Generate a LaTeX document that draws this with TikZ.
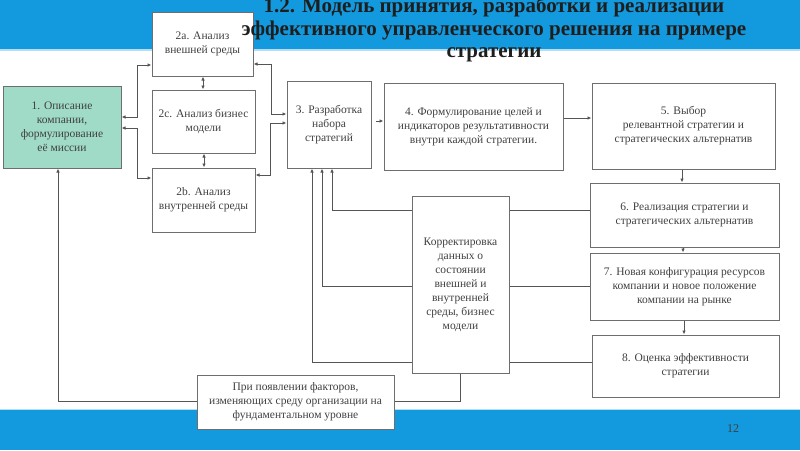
\documentclass[tikz,border=0pt]{standalone}
\usepackage{fontspec}
\setmainfont{Liberation Serif}
\usepackage{tikz}
\usetikzlibrary{arrows.meta,positioning,calc,backgrounds}
\definecolor{bandblue}{HTML}{1399DE}
\definecolor{bandlight}{HTML}{B5DDF3}
\definecolor{mintfill}{HTML}{9FDBC7}
\definecolor{boxline}{HTML}{6E6E6E}
\definecolor{linkgray}{HTML}{555555}
\definecolor{txtgray}{HTML}{404040}
\definecolor{titleblack}{HTML}{1E1E1E}

\begin{document}
\begin{tikzpicture}[
  x=1pt,y=-1pt,
  box/.style={draw=boxline,line width=1pt,fill=white,inner sep=2pt,
              font=\fontsize{11.5}{14}\selectfont,text=txtgray,align=center},
  arr/.style={-{Latex[length=4pt,width=3.5pt]},linkgray,line width=0.8pt},
  dbl/.style={{Latex[length=4pt,width=3.5pt]}-{Latex[length=4pt,width=3.5pt]},
              linkgray,line width=0.8pt}
]
  \useasboundingbox (0,0) rectangle (800,450);
  \begin{scope}[on background layer]
    \fill[bandblue] (0,0) rectangle (800,49);
    \draw[bandlight,line width=1.5pt] (0,50) -- (800,50);
    \fill[bandblue] (0,409) rectangle (800,450);
    \draw[bandlight,line width=1pt] (0,409) -- (800,409);
  \end{scope}

  \node[box,fill=mintfill,minimum width=118pt,minimum height=82pt](desc) at (62,127)
       {1. Описание\\компании,\\формулирование\\её миссии};
  \node[box,minimum width=101pt,minimum height=64pt](ext) at (202.5,44)
       {2a. Анализ\\внешней среды};
  \node[box,minimum width=103pt,minimum height=63pt](bmod) at (203.5,121.5)
       {2c. Анализ бизнес\\модели};
  \node[box,minimum width=103pt,minimum height=64pt](int) at (203.5,200)
       {2b. Анализ\\внутренней среды};
  \node[box,minimum width=84pt,minimum height=87pt](dev) at (329,124.5)
       {3. Разработка\\набора\\стратегий};
  \node[box,minimum width=179pt,minimum height=87pt](goals) at (473.5,126.5)
       {4. Формулирование целей и\\индикаторов результативности\\внутри каждой стратегии.};
  \node[box,minimum width=183pt,minimum height=86pt](choice) at (683.5,126)
       {5. Выбор\\релевантной стратегии и\\стратегических альтернатив};
  \node[box,minimum width=189pt,minimum height=64pt](impl) at (684.5,215)
       {6. Реализация стратегии и\\стратегических альтернатив};
  \node[box,minimum width=189pt,minimum height=67pt](rescfg) at (684.5,286.5)
       {7. Новая конфигурация ресурсов\\компании и новое положение\\компании на рынке};
  \node[box,minimum width=187pt,minimum height=62pt](eval) at (685.5,366)
       {8. Оценка эффективности\\стратегии};
  \node[box,minimum width=97pt,minimum height=177pt](corr) at (460.5,284.5)
       {Корректировка\\данных о\\состоянии\\внешней и\\внутренней\\среды, бизнес\\модели};
  \node[box,minimum width=197pt,minimum height=54pt](factors) at (295.5,402)
       {При появлении факторов,\\изменяющих среду организации на\\фундаментальном уровне};

  \node[font=\fontsize{21}{22.5}\selectfont\bfseries,text=titleblack,align=center](title)
       at (494,30) {1.2. Модель принятия, разработки и реализации\\
       эффективного управленческого решения на примере\\стратегии};
  \node[font=\fontsize{12}{14}\selectfont,text=txtgray](pgnum) at (733,429) {12};

  \begin{scope}[on background layer]
    \draw[dbl](desc.east |- 0,117)--++(16,0) |-(ext.west |- 0,65);
    \draw[dbl](desc.east |- 0,128)--++(16,0) |-(int.west |- 0,178);
    \draw[dbl](ext.south -| 203,0)--(bmod.north -| 203,0);
    \draw[dbl](bmod.south -| 204,0)--(int.north -| 204,0);
    \draw[dbl](ext.east |- 0,64)--++(18,0) |-(dev.west |- 0,114);
    \draw[dbl](int.east |- 0,175)--++(15,0) |-(dev.west |- 0,123);
    \draw[arr,shorten <=4pt](dev.east |- 0,121)--(goals.west |- 0,121);
    \draw[arr](goals.east |- 0,118)--(choice.west |- 0,118);
    \draw[arr](choice.south -| 682,0)--(impl.north -| 682,0);
    \draw[arr](impl.south -| 683,0)--(rescfg.north -| 683,0);
    \draw[arr](rescfg.south -| 684,0)--(eval.north -| 684,0);
    \draw[arr](impl.west |- 0,210) -|(332,0 |- dev.south);
    \draw[arr](rescfg.west |- 0,286) -|(322,0 |- dev.south);
    \draw[arr](eval.west |- 0,362) -|(312,0 |- dev.south);
    \draw[arr](corr.south)--++(0,28) -|(58,0 |- desc.south);
  \end{scope}
\end{tikzpicture}
\end{document}
